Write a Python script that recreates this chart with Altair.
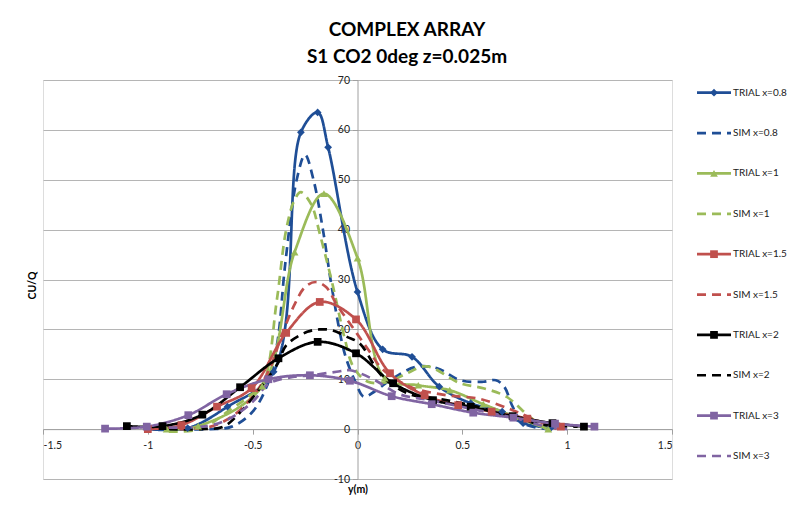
import altair as alt
import pandas as pd

# series as they appear in the legend
names = ["TRIAL x=0.8", "SIM x=0.8", "TRIAL x=1", "SIM x=1", "TRIAL x=1.5",
         "SIM x=1.5", "TRIAL x=2", "SIM x=2", "TRIAL x=3", "SIM x=3"]
colors = ["#1F4E96", "#1F4E96", "#9BBB59", "#9BBB59", "#C0504D",
          "#C0504D", "#000000", "#000000", "#8064A2", "#8064A2"]
trial_names = ["TRIAL x=0.8", "TRIAL x=1", "TRIAL x=1.5", "TRIAL x=2", "TRIAL x=3"]
trial_shapes = ["diamond", "triangle-up", "square", "square", "square"]

# measured (trial) profiles
t08_y = [-1.0, -0.81, -0.62, -0.40, -0.27, -0.19, -0.14, 0.0, 0.12, 0.26, 0.39, 0.54, 0.69, 0.79, 0.92]
t08_c = [0.0, 0.2, 4.5, 11.5, 59.5, 63.5, 56.5, 27.5, 16.0, 14.5, 8.5, 5.2, 3.5, 1.2, 0.2]
t1_y = [-0.91, -0.76, -0.455, -0.30, -0.16, 0.0, 0.13, 0.29, 0.44, 0.60, 0.75, 0.91]
t1_c = [0.0, 0.6, 8.6, 35.5, 47.2, 34.3, 10.2, 8.8, 7.8, 5.0, 2.5, 0.0]
t15_y = [-1.0, -0.84, -0.67, -0.505, -0.34, -0.18, -0.007, 0.155, 0.32, 0.48, 0.64, 0.81, 0.97]
t15_c = [0.0, 0.8, 4.5, 8.2, 19.3, 25.5, 22.0, 11.2, 6.8, 4.8, 3.5, 2.1, 0.5]
t2_y = [-1.1, -0.93, -0.74, -0.56, -0.377, -0.19, -0.007, 0.17, 0.36, 0.54, 0.74, 0.93, 1.08]
t2_c = [0.6, 0.6, 2.9, 8.4, 14.2, 17.5, 15.2, 9.2, 5.8, 4.5, 2.6, 1.2, 0.5]
t3_y = [-1.204, -1.005, -0.807, -0.624, -0.425, -0.227, -0.036, 0.163, 0.354, 0.552, 0.743, 0.942, 1.13]
t3_c = [0.1, 0.5, 2.8, 7.0, 10.0, 10.8, 9.7, 6.6, 5.0, 3.3, 2.3, 1.1, 0.5]

# simulated profiles
s08_y = [-0.85, -0.7, -0.6, -0.5, -0.42, -0.38, -0.345, -0.29, -0.25, -0.21, -0.165, -0.12,
         -0.06, -0.01, 0.03, 0.08, 0.155, 0.28, 0.38, 0.49, 0.6, 0.66, 0.7, 0.74, 0.79, 0.9]
s08_c = [0.0, 0.0, 0.5, 3.5, 10.0, 18.0, 33.0, 50.0, 55.0, 50.0, 40.0, 27.8,
         15.0, 9.5, 6.5, 7.5, 9.8, 12.5, 12.2, 9.8, 9.5, 9.8, 8.5, 4.5, 1.2, 0.0]
s1_y = [-0.9, -0.75, -0.61, -0.52, -0.45, -0.385, -0.34, -0.3, -0.27, -0.22, -0.18, -0.12,
        -0.06, -0.02, 0.05, 0.15, 0.235, 0.33, 0.49, 0.6, 0.71, 0.82, 0.9]
s1_c = [-0.5, 0.0, 3.8, 6.5, 9.2, 25.8, 40.0, 46.0, 47.5, 45.0, 39.2, 29.2,
        18.0, 12.5, 9.5, 9.5, 11.2, 12.6, 9.2, 8.2, 6.5, 2.5, 0.0]
s15_y = [-0.85, -0.7, -0.6, -0.5, -0.42, -0.36, -0.3, -0.25, -0.2, -0.15, -0.1, -0.05,
         0.0, 0.05, 0.12, 0.25, 0.425, 0.58, 0.74, 0.85, 0.95]
s15_c = [0.0, 0.5, 2.5, 6.5, 12.0, 19.0, 25.0, 28.5, 29.5, 28.5, 25.0, 22.0,
         19.0, 16.0, 12.0, 8.5, 6.8, 6.1, 3.8, 1.8, 0.0]
s2_y = [-0.9, -0.75, -0.64, -0.55, -0.46, -0.38, -0.34, -0.24, -0.18, -0.12, -0.05, 0.01,
        0.12, 0.25, 0.4, 0.57, 0.73, 0.9, 1.05]
s2_c = [0.0, 0.0, 0.5, 3.8, 8.5, 13.2, 16.8, 19.5, 20.0, 19.8, 18.5, 17.2,
        10.5, 7.0, 6.0, 4.5, 2.5, 0.8, 0.5]
s3_y = [-0.9, -0.72, -0.61, -0.5, -0.42, -0.3, -0.22, -0.1, -0.036, 0.075, 0.2, 0.345,
        0.55, 0.75, 0.9, 1.0]
s3_c = [0.3, 0.6, 2.1, 5.5, 9.2, 10.5, 10.8, 11.5, 11.8, 10.0, 7.0, 5.8,
        4.0, 2.2, 0.5, 0.0]

profiles = {
    "TRIAL x=0.8": (t08_y, t08_c), "SIM x=0.8": (s08_y, s08_c),
    "TRIAL x=1": (t1_y, t1_c), "SIM x=1": (s1_y, s1_c),
    "TRIAL x=1.5": (t15_y, t15_c), "SIM x=1.5": (s15_y, s15_c),
    "TRIAL x=2": (t2_y, t2_c), "SIM x=2": (s2_y, s2_c),
    "TRIAL x=3": (t3_y, t3_c), "SIM x=3": (s3_y, s3_c),
}

rows = []
for name in names:
    ys, cs = profiles[name]
    for y, c in zip(ys, cs):
        rows.append({"series": name, "y": y, "cuq": c})
df = pd.DataFrame(rows)
df_trial = df[df.series.str.startswith("TRIAL")]
legend_df = pd.DataFrame({"series": names})
legend_trial = legend_df[legend_df.series.str.startswith("TRIAL")]

W, H = 629, 399
x_dom, y_dom = [-1.5, 1.5], [-10, 70]
# put the axes through the origin
x_axis_offset = -H * (0 - y_dom[0]) / (y_dom[1] - y_dom[0])
y_axis_offset = -W * (0 - x_dom[0]) / (x_dom[1] - x_dom[0])

font = "Lato"
dashes = [[1, 0] if n.startswith("TRIAL") else [9, 6] for n in names]
color = alt.Color("series:N", scale=alt.Scale(domain=names, range=colors), legend=None)
dash = alt.StrokeDash("series:N", scale=alt.Scale(domain=names, range=dashes), legend=None)
shape = alt.Shape("series:N", scale=alt.Scale(domain=trial_names, range=trial_shapes), legend=None)

x_enc = alt.X("y:Q", scale=alt.Scale(domain=x_dom, nice=False),
              axis=alt.Axis(values=[-1.5, -1, -0.5, 0, 0.5, 1, 1.5], labelExpr="datum.value + ''",
                            grid=False, offset=x_axis_offset, title="y(m)", titleY=55,
                            titleFontWeight="bold", titleFontSize=10.5, titleFont=font,
                            labelFont=font, labelFontSize=10.5, labelColor="#222222",
                            labelPadding=6, tickSize=5, domainColor="#A0A0A0", tickColor="#A0A0A0"))
y_enc = alt.Y("cuq:Q", scale=alt.Scale(domain=y_dom, nice=False),
              axis=alt.Axis(values=list(range(-10, 71, 10)), labelExpr="datum.value + ''",
                            grid=True, gridColor="#B5B5B5", offset=y_axis_offset,
                            title="CU/Q", titleX=y_axis_offset - 10.5, titleY=205,
                            titleBaseline="middle", titleAngle=-90,
                            titleFontWeight="bold", titleFontSize=10.5, titleFont=font,
                            labelFont=font, labelFontSize=10.5, labelColor="#222222",
                            labelPadding=3, tickSize=5, domainColor="#A0A0A0", tickColor="#A0A0A0"))

lines = alt.Chart(df).mark_line(interpolate="catmull-rom", strokeWidth=2.7).encode(
    x=x_enc, y=y_enc, color=color, strokeDash=dash
)
points = alt.Chart(df_trial).mark_point(filled=True, size=60, opacity=1).encode(
    x="y:Q", y="cuq:Q", color=color, shape=shape
)
plot = alt.layer(lines, points)

leg_y = alt.Y("series:N", scale=alt.Scale(type="point", domain=names, range=[12.7, 376], padding=0), axis=None)
leg_rule = alt.Chart(legend_df).mark_rule(strokeWidth=2.7).encode(
    x=alt.value(654), x2=alt.value(688), y=leg_y, color=color, strokeDash=dash
)
leg_mark = alt.Chart(legend_trial).mark_point(filled=True, size=60, opacity=1).encode(
    x=alt.value(671), y=leg_y, color=color, shape=shape
)
leg_text = alt.Chart(legend_df).mark_text(align="left", baseline="middle", font=font,
                                           fontSize=10, color="#222222").encode(
    x=alt.value(690), y=leg_y, text="series:N"
)
legend = alt.layer(leg_rule, leg_mark, leg_text)

chart = alt.layer(plot, legend).resolve_scale(y="independent").properties(
    width=W, height=H,
    autosize=alt.AutoSizeParams(type="none"),
    padding={"left": 35, "top": 72, "right": 118, "bottom": 30},
    title=alt.TitleParams(["COMPLEX ARRAY", "S1 CO2 0deg z=0.025m"], font=font, fontSize=19,
                          fontWeight="bold", color="#000000", lineHeight=27, anchor="middle",
                          dx=49.5, offset=8),
).configure_view(stroke=None).configure(background="white")

chart.save("out.html", embed_options={"renderer": "svg", "actions": False})
